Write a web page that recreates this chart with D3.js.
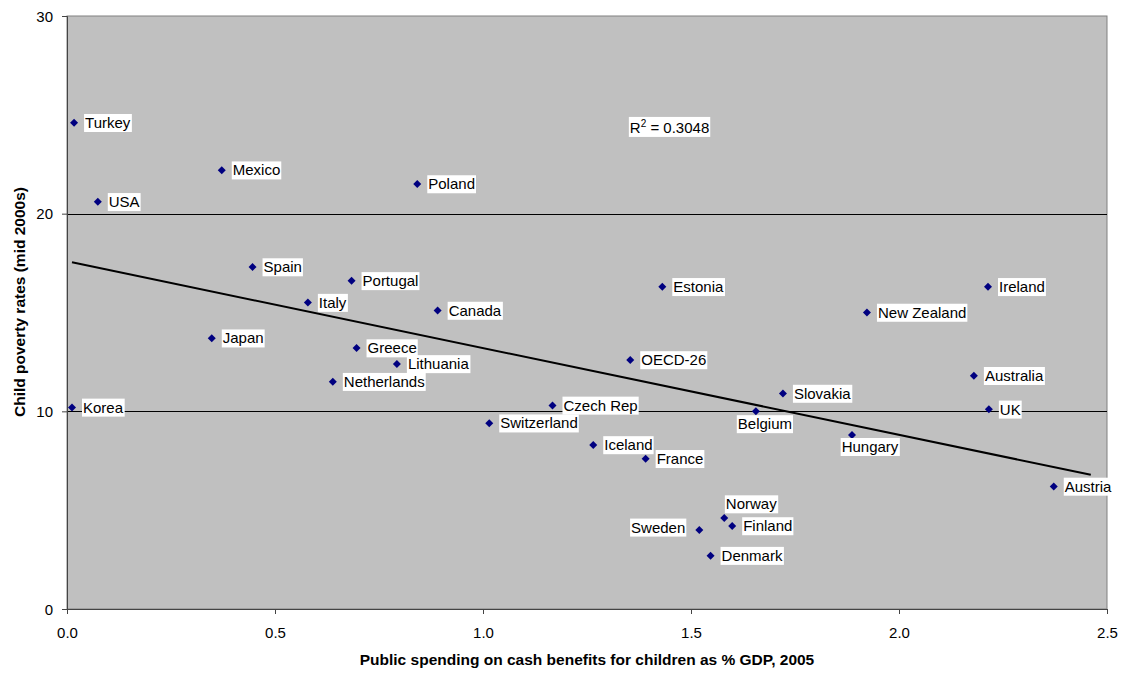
<!DOCTYPE html>
<html>
<head>
<meta charset="utf-8">
<script src="https://cdn.jsdelivr.net/npm/d3@7"></script>
<style>
  body { margin: 0; background: #fff; }
  text { font-family: "Liberation Sans", Arial, sans-serif; }
</style>
</head>
<body>
<div id="chart"></div>
<script>
// data
var countries = ["Turkey", "Mexico", "USA", "Poland", "Spain", "Portugal", "Italy", "Canada",
    "Japan", "Greece", "Lithuania", "Netherlands", "Korea", "Switzerland", "Czech Rep",
    "Iceland", "France", "Estonia", "OECD-26", "Slovakia", "Belgium", "Hungary", "Norway",
    "Finland", "Sweden", "Denmark", "New Zealand", "Ireland", "Australia", "UK", "Austria"];
var spending = [0.017, 0.372, 0.074, 0.842, 0.446, 0.684, 0.579, 0.891,
    0.348, 0.696, 0.793, 0.639, 0.012, 1.015, 1.167,
    1.265, 1.391, 1.431, 1.354, 1.721, 1.656, 1.887, 1.580,
    1.599, 1.520, 1.547, 1.923, 2.214, 2.180, 2.216, 2.372];
var poverty = [24.6, 22.2, 20.6, 21.5, 17.3, 16.6, 15.5, 15.1,
    13.7, 13.2, 12.4, 11.5, 10.2, 9.4, 10.3,
    8.3, 7.6, 16.3, 12.6, 10.9, 10.0, 8.8, 4.6,
    4.2, 4.0, 2.7, 15.0, 16.3, 11.8, 10.1, 6.2];
var trendX = [0.012, 2.461];
var trendY = [17.54, 6.79];
var xTicks = [0, 0.5, 1.0, 1.5, 2.0, 2.5];
var yTicks = [0, 10, 20, 30];
var rSquared = "0.3048";

// labels that are not placed to the right of their marker
var labelPos = {
    "Norway": { dx: 27, dy: -14, anchor: "middle" },
    "Belgium": { dx: 9, dy: 12.6, anchor: "middle" },
    "Hungary": { dx: 18, dy: 11.7, anchor: "middle" },
    "Sweden": { dx: -14, dy: -2.6, anchor: "end" }
};

var svgWidth = 1128;
var svgHeight = 673;
var margin = { top: 16, right: 21, bottom: 64, left: 67 };
var width = svgWidth - margin.left - margin.right;
var height = svgHeight - margin.top - margin.bottom;

var svg = d3.select("#chart").append("svg")
    .attr("width", svgWidth)
    .attr("height", svgHeight);
var chartGroup = svg.append("g")
    .attr("transform", `translate(${margin.left},${margin.top})`);

var xScale = d3.scaleLinear().domain([0, 2.5]).range([0, width]);
var yScale = d3.scaleLinear().domain([0, 30]).range([height, 0]);

var pts = countries.map(function (c, i) {
    return { name: c, x: spending[i], y: poverty[i] };
});

// plot area
chartGroup.append("rect")
    .attr("width", width)
    .attr("height", height)
    .attr("fill", "#c0c0c0")
    .attr("stroke", "#808080");

// gridlines
chartGroup.selectAll(".grid")
    .data(yTicks.filter(d => d > 0 && d < 30))
    .enter().append("line")
    .attr("x1", 0).attr("x2", width)
    .attr("y1", d => Math.round(yScale(d)) + 0.5)
    .attr("y2", d => Math.round(yScale(d)) + 0.5)
    .attr("stroke", "#000")
    .attr("stroke-width", 1);

// axes
var yAxis = chartGroup.append("g")
    .call(d3.axisLeft(yScale).tickValues(yTicks).tickSize(5).tickPadding(9).tickFormat(d3.format("d")));
var xAxis = chartGroup.append("g")
    .attr("transform", `translate(0,${height})`)
    .call(d3.axisBottom(xScale).tickValues(xTicks).tickSize(5).tickFormat(d3.format(".1f")));

[xAxis, yAxis].forEach(function (ax) {
    ax.select(".domain").attr("stroke", "#444");
    ax.selectAll(".tick line").attr("stroke", "#444");
    ax.selectAll(".tick text").style("font-size", "15px").attr("fill", "#000");
});
xAxis.selectAll(".tick text").attr("y", 24).attr("dy", "0.35em");
yAxis.selectAll(".tick text").attr("dy", "0.35em");

// trend line
chartGroup.append("line")
    .attr("x1", xScale(trendX[0])).attr("y1", yScale(trendY[0]))
    .attr("x2", xScale(trendX[1])).attr("y2", yScale(trendY[1]))
    .attr("stroke", "#000")
    .attr("stroke-width", 2);

// markers
chartGroup.selectAll(".pt")
    .data(pts)
    .enter().append("path")
    .attr("class", "pt")
    .attr("d", d3.symbol().type(d3.symbolSquare).size(32))
    .attr("transform", d => `translate(${xScale(d.x)},${yScale(d.y)}) rotate(45)`)
    .attr("fill", "#000080");

// labels with white boxes
var labels = chartGroup.selectAll(".lbl")
    .data(pts)
    .enter().append("g")
    .attr("class", "lbl");

labels.each(function (d) {
    var p = labelPos[d.name] || { dx: 11, dy: 0, anchor: "start" };
    var g = d3.select(this);
    var t = g.append("text")
        .attr("x", xScale(d.x) + p.dx)
        .attr("y", yScale(d.y) + p.dy)
        .attr("dy", "0.35em")
        .attr("text-anchor", p.anchor)
        .style("font-size", "15px")
        .attr("fill", "#000")
        .text(d.name);
    var b = t.node().getBBox();
    g.insert("rect", "text")
        .attr("x", b.x - 1)
        .attr("y", b.y)
        .attr("width", b.width + 2)
        .attr("height", b.height + 1)
        .attr("fill", "#fff");
});

// R squared box
var rg = chartGroup.append("g");
var rt = rg.append("text")
    .attr("x", xScale(1.353))
    .attr("y", yScale(24.35))
    .attr("dy", "0.35em")
    .style("font-size", "15px")
    .attr("fill", "#000");
rt.append("tspan").text("R");
rt.append("tspan").attr("dy", -6).style("font-size", "10px").text("2");
rt.append("tspan").attr("dy", 6).text(" = " + rSquared);
var rb = rt.node().getBBox();
rg.insert("rect", "text")
    .attr("x", rb.x - 1).attr("y", rb.y - 1)
    .attr("width", rb.width + 2).attr("height", rb.height + 2)
    .attr("fill", "#fff");

// axis titles
svg.append("text")
    .attr("x", margin.left + width / 2)
    .attr("y", 660)
    .attr("dy", "0.35em")
    .attr("text-anchor", "middle")
    .style("font-size", "15.5px")
    .style("font-weight", "bold")
    .text("Public spending on cash benefits for children as % GDP, 2005");

svg.append("text")
    .attr("transform", "translate(20,302) rotate(-90)")
    .attr("dy", "0.35em")
    .attr("text-anchor", "middle")
    .style("font-size", "15.5px")
    .style("font-weight", "bold")
    .text("Child poverty rates (mid 2000s)");
</script>
</body>
</html>
